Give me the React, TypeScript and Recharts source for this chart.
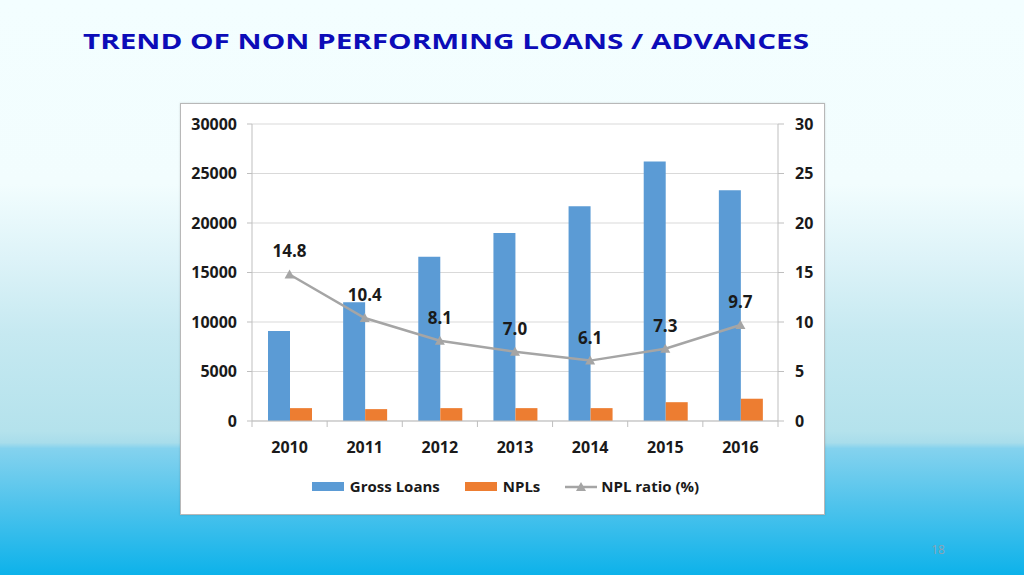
import { Bar, CartesianGrid, ComposedChart, LabelList, Legend, Line, XAxis, YAxis } from "recharts";

const years = ["2010", "2011", "2012", "2013", "2014", "2015", "2016"];
const grossLoans = [9100, 12000, 16600, 19000, 21700, 26200, 23300];
const npls = [1300, 1200, 1300, 1300, 1300, 1900, 2250];
const nplRatio = [14.8, 10.4, 8.1, 7.0, 6.1, 7.3, 9.7];
const leftTicks = [0, 5000, 10000, 15000, 20000, 25000, 30000];
const rightTicks = [0, 5, 10, 15, 20, 25, 30];

const data = years.map((year, i) => ({
  year,
  gross: grossLoans[i],
  npl: npls[i],
  ratio: nplRatio[i],
}));

const W = 643;
const H = 410;
const MARGIN = { top: 20, right: 16, bottom: 63, left: 11 };
const LEFT_W = 60;
const RIGHT_W = 30;
const PLOT_W = W - MARGIN.left - MARGIN.right - LEFT_W - RIGHT_W;
const BAND = PLOT_W / years.length;

const FONT = "'Open Sans', sans-serif";
const AXIS = "#BFBFBF";
const tickFont = { fill: "#1a1a1a", fontSize: 16, fontWeight: 700, fontFamily: FONT };

function YearTick(props: any) {
  const { x, y, payload, index } = props;
  return (
    <g>
      <line x1={x - BAND / 2} x2={x - BAND / 2} y1={y} y2={y + 6} stroke={AXIS} />
      {index === years.length - 1 && (
        <line x1={x + BAND / 2} x2={x + BAND / 2} y1={y} y2={y + 6} stroke={AXIS} />
      )}
      <text x={x} y={y + 26} textAnchor="middle" dominantBaseline="central" {...tickFont}>
        {payload.value}
      </text>
    </g>
  );
}

function Triangle(props: any) {
  const { cx, cy } = props;
  if (cx == null || cy == null) return null;
  return <path d={`M${cx},${cy - 5} L${cx + 5},${cy + 4} L${cx - 5},${cy + 4} Z`} fill="#A5A5A5" />;
}

function LegendBox() {
  const text = { fontFamily: FONT, fontWeight: 700, fontSize: 15, color: "#1a1a1a" };
  return (
    <div style={{ display: "flex", justifyContent: "center", alignItems: "center", gap: 25, paddingLeft: 6 }}>
      <div style={{ display: "flex", alignItems: "center", gap: 6 }}>
        <span style={{ width: 32, height: 9, background: "#5B9BD5", display: "inline-block" }} />
        <span style={text}>Gross Loans</span>
      </div>
      <div style={{ display: "flex", alignItems: "center", gap: 6 }}>
        <span style={{ width: 32, height: 9, background: "#ED7D31", display: "inline-block" }} />
        <span style={text}>NPLs</span>
      </div>
      <div style={{ display: "flex", alignItems: "center", gap: 4 }}>
        <svg width={32} height={12}>
          <line x1={0} x2={32} y1={7} y2={7} stroke="#A5A5A5" strokeWidth={2.5} />
          <path d="M16,2 L21,11 L11,11 Z" fill="#A5A5A5" />
        </svg>
        <span style={text}>NPL ratio (%)</span>
      </div>
    </div>
  );
}

export default function App() {
  return (
    <div
      style={{
        position: "fixed",
        left: 0,
        top: 0,
        width: 1024,
        height: 575,
        overflow: "hidden",
        background:
          "linear-gradient(to bottom, #F3FEFF 0%, #F2FDFE 32%, #DDF3F8 45%, #C6E9F1 58%, #B4E2EC 75%, #A8DDEB 77%, #84D2EE 78%, #4EC3EC 88%, #0DB2EA 100%)",
      }}
    >
      <svg width={1024} height={70} style={{ position: "absolute", left: 0, top: 0 }}>
        <text
          x={83}
          y={49}
          textLength={726}
          lengthAdjust="spacingAndGlyphs"
          fontFamily={FONT}
          fontWeight={700}
          fontSize={21}
          fill="#0C0CB8"
        >
          TREND OF NON PERFORMING LOANS / ADVANCES
        </text>
      </svg>

      <div
        style={{
          position: "absolute",
          left: 180,
          top: 103,
          width: W,
          height: H,
          background: "#fff",
          border: "1px solid #B8B8B8",
          boxShadow: "0 0 2px rgba(0,0,0,0.15)",
        }}
      >
        <ComposedChart width={W} height={H} data={data} margin={MARGIN} barGap={0}>
          <CartesianGrid vertical={false} stroke="#D9D9D9" yAxisId="left" />
          <XAxis
            dataKey="year"
            height={30}
            axisLine={{ stroke: AXIS }}
            tickLine={false}
            tickSize={0}
            tickMargin={0}
            tick={<YearTick />}
            interval={0}
          />
          <YAxis
            yAxisId="left"
            width={LEFT_W}
            domain={[0, 30000]}
            ticks={leftTicks}
            axisLine={{ stroke: AXIS }}
            tickLine={{ stroke: AXIS }}
            tickSize={5}
            tickMargin={10}
            tick={tickFont}
            interval={0}
          />
          <YAxis
            yAxisId="right"
            orientation="right"
            width={RIGHT_W}
            domain={[0, 30]}
            ticks={rightTicks}
            axisLine={{ stroke: AXIS }}
            tickLine={{ stroke: AXIS }}
            tickSize={6}
            tickMargin={11}
            tick={tickFont}
            interval={0}
          />
          <Legend
            layout="horizontal"
            verticalAlign="middle"
            align="center"
            wrapperStyle={{ top: 372, left: 0, width: W }}
            content={() => <LegendBox />}
          />
          <Bar yAxisId="left" dataKey="gross" name="Gross Loans" fill="#5B9BD5" barSize={22} isAnimationActive={false} />
          <Bar yAxisId="left" dataKey="npl" name="NPLs" fill="#ED7D31" barSize={22} isAnimationActive={false} />
          <Line
            yAxisId="right"
            dataKey="ratio"
            name="NPL ratio (%)"
            type="linear"
            stroke="#A5A5A5"
            strokeWidth={2.5}
            dot={<Triangle />}
            activeDot={false}
            isAnimationActive={false}
          >
            <LabelList
              dataKey="ratio"
              position="top"
              offset={17}
              formatter={(v: any) => Number(v).toFixed(1)}
              style={{ fill: "#1a1a1a", fontSize: 17, fontWeight: 700, fontFamily: FONT }}
            />
          </Line>
        </ComposedChart>
      </div>

      <div
        style={{
          position: "absolute",
          left: 918,
          top: 541,
          width: 40,
          textAlign: "center",
          fontFamily: FONT,
          fontSize: 12,
          color: "#8BA3B3",
        }}
      >
        18
      </div>
    </div>
  );
}
